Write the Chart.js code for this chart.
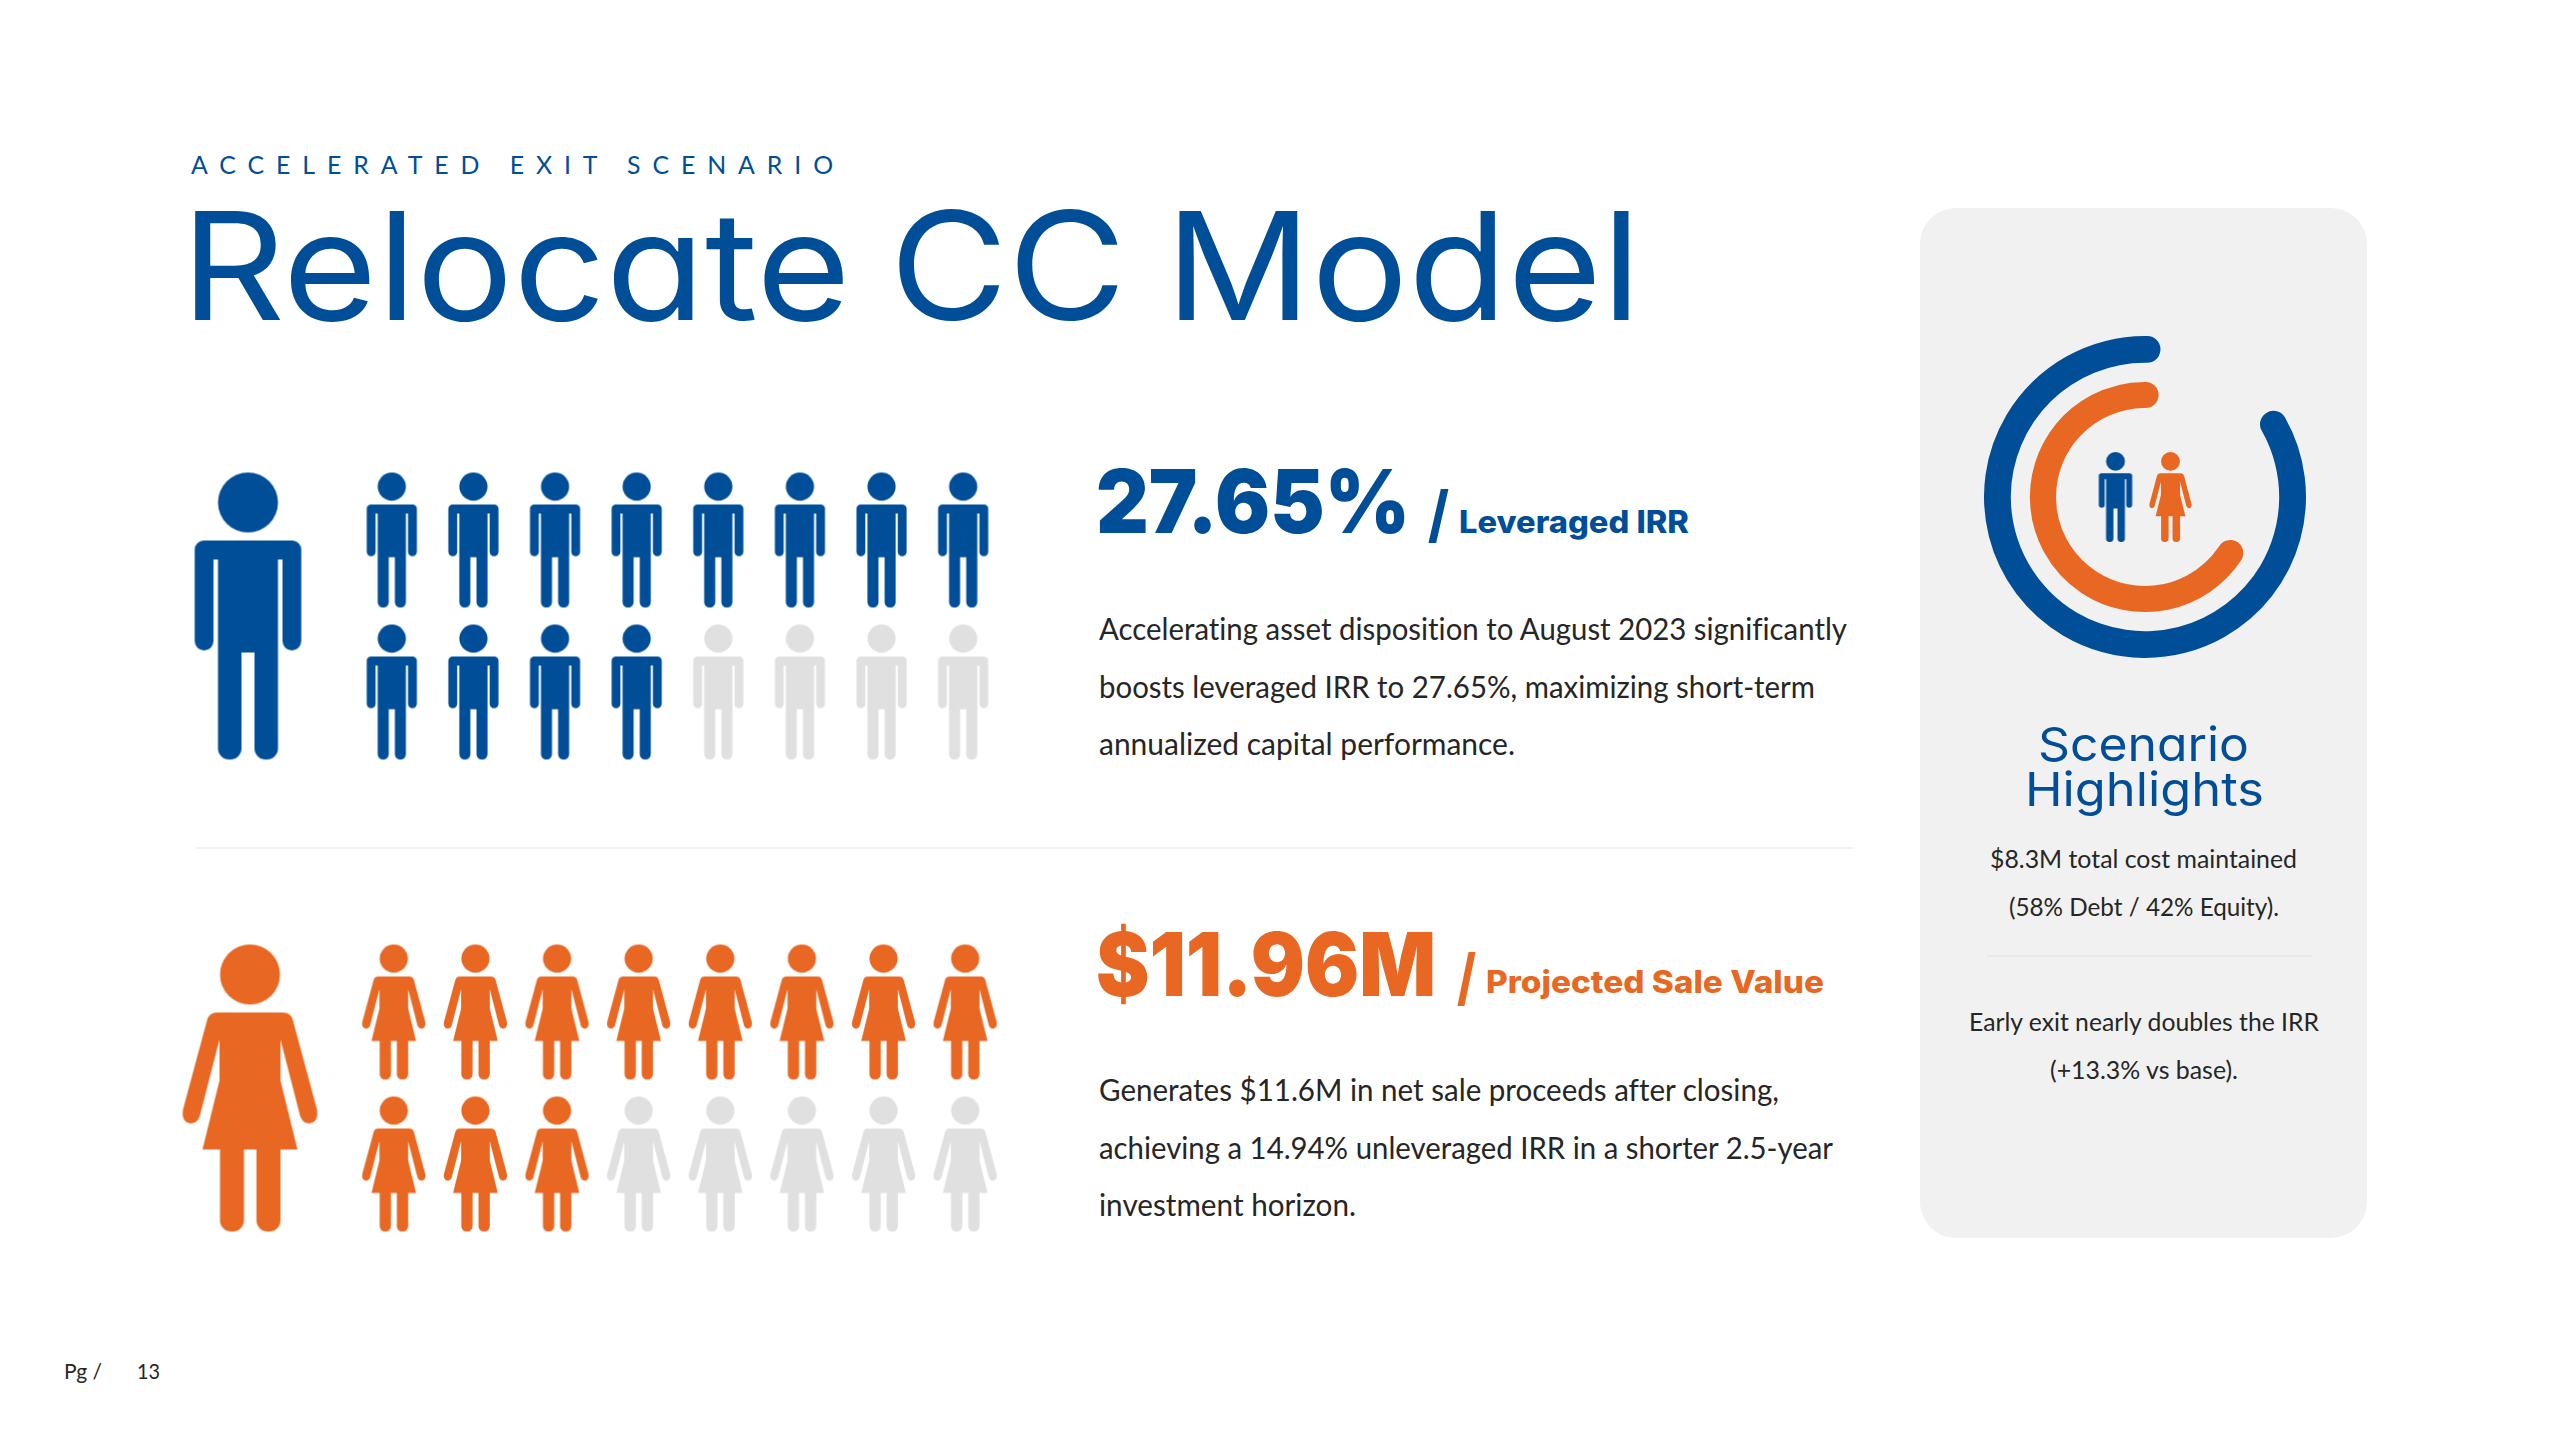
<!DOCTYPE html>
<html>
<head>
<meta charset="utf-8">
<title>Relocate CC Model</title>
<script src="https://cdn.jsdelivr.net/npm/chart.js@4/dist/chart.umd.min.js"></script>
<style>
html, body { margin: 0; padding: 0; background: #fff; }
#slide { position: relative; width: 2560px; height: 1440px; overflow: hidden; background: #fff; }
#slide canvas { position: absolute; }
.t { position: absolute; white-space: pre; transform-origin: 0 0; line-height: normal; }
.blue { color: #004e98; }
.orange { color: #e86722; }
.eyebrow { font: 400 25px Lato; letter-spacing: 12px; }
.title { font: 400 150px Inter; font-feature-settings: 'cv11'; word-spacing: -6px; }
.big { font: 900 88px Inter; }
.slash { font: 800 62px Inter; }
.sub { font: 800 31px Inter; }
.body { font: 400 30px Lato; color: #262626; font-variant-ligatures: none; }
.head { font: 400 47px Inter; font-feature-settings: 'cv11'; }
.small { font: 400 25px Lato; color: #262626; font-variant-ligatures: none; }
.foot { font: 400 21px Lato; color: #262626; }
.rule { position: absolute; height: 2px; background: #f2f2f2; }
#panel { position: absolute; left: 1920px; top: 208px; width: 447px; height: 1030px; background: #f1f1f1; border-radius: 36px; }
</style>
</head>
<body>
<div id="slide">
  <div id="panel"></div>
  <div class="rule" style="left:196px;top:847px;width:1657px"></div>
  <div class="rule" style="left:1987px;top:955px;width:325px;background:#e8e8e8"></div>

  <span class="t eyebrow blue" data-x="191" data-base="174" data-w="654">ACCELERATED EXIT SCENARIO</span>
  <span class="t title blue" data-x="181" data-base="320" data-w="1460">Relocate CC Model</span>

  <span class="t big blue" data-x="1096" data-base="533" data-w="314">27.65%</span>
  <span class="t slash blue" data-x="1428" data-base="536" data-w="21">/</span>
  <span class="t sub blue" data-x="1459" data-base="533" data-w="230">Leveraged IRR</span>
  <span class="t body" data-x="1099" data-base="640" data-w="748">Accelerating asset disposition to August 2023 significantly</span>
  <span class="t body" data-x="1099" data-base="698" data-w="716">boosts leveraged IRR to 27.65%, maximizing short-term</span>
  <span class="t body" data-x="1099" data-base="755" data-w="416">annualized capital performance.</span>

  <span class="t big orange" data-x="1096" data-base="996" data-w="340">$11.96M</span>
  <span class="t slash orange" data-x="1457" data-base="999" data-w="19">/</span>
  <span class="t sub orange" data-x="1486" data-base="993" data-w="338">Projected Sale Value</span>
  <span class="t body" data-x="1099" data-base="1101" data-w="680">Generates $11.6M in net sale proceeds after closing,</span>
  <span class="t body" data-x="1099" data-base="1159" data-w="734">achieving a 14.94% unleveraged IRR in a shorter 2.5-year</span>
  <span class="t body" data-x="1099" data-base="1216" data-w="257">investment horizon.</span>

  <span class="t head blue" data-x="2038" data-base="761" data-w="211">Scenario</span>
  <span class="t head blue" data-x="2025" data-base="806" data-w="239">Highlights</span>
  <span class="t small" data-x="1990" data-base="868" data-w="307">$8.3M total cost maintained</span>
  <span class="t small" data-x="2009" data-base="916" data-w="270">(58% Debt / 42% Equity).</span>
  <span class="t small" data-x="1969" data-base="1031" data-w="350">Early exit nearly doubles the IRR</span>
  <span class="t small" data-x="2050" data-base="1079" data-w="188">(+13.3% vs base).</span>

  <span class="t foot" data-x="64" data-base="1379" data-w="38">Pg /</span>
  <span class="t foot" data-x="137" data-base="1379" data-w="23">13</span>

  <canvas id="bigMan" width="140" height="300" style="left:178px;top:466px"></canvas>
  <canvas id="irrGrid" width="653" height="304" style="left:351px;top:464px"></canvas>
  <canvas id="bigWoman" width="140" height="300" style="left:180px;top:938px"></canvas>
  <canvas id="saleGrid" width="653" height="304" style="left:353px;top:936px"></canvas>
  <canvas id="ring" width="322" height="322" style="left:1984px;top:336px"></canvas>
  <canvas id="ringIcons" width="110" height="100" style="left:2088px;top:447px"></canvas>
</div>

<script>
'use strict';
// icon grids
let gridColumns = [1, 2, 3, 4, 5, 6, 7, 8];
let gridRows = [1, 2];
// how many icons are coloured in each row
let irrFilled = [8, 4];
let saleFilled = [8, 3];

// ring values, percent of the full circle
let outerRingValues = [86.3, 13.7];
let innerRingValues = [69.9, 30.1];

let BLUE = '#004e98';
let ORANGE = '#e86722';
let GREY = '#e0e0e0';

// put text on its baseline and squeeze it to the width in the picture
function placeText(el) {
    let probe = document.createElement('i');
    probe.style.cssText = 'display:inline-block;width:0;height:0';
    el.appendChild(probe);
    el.style.left = el.dataset.x + 'px';
    el.style.top = '0px';
    let ascent = probe.getBoundingClientRect().bottom - el.getBoundingClientRect().top;
    el.removeChild(probe);
    el.style.top = (Number(el.dataset.base) - ascent) + 'px';
    let sx = Number(el.dataset.w) / el.getBoundingClientRect().width;
    el.style.transform = 'scaleX(' + sx + ')';
}
document.querySelectorAll('.t').forEach(placeText);

// silhouettes are written for a 287 tall figure, scaled down from there
function figureCanvas(wide, height, color, draw) {
    let s = height / 287;
    let c = document.createElement('canvas');
    c.width = Math.ceil(wide * s) + 2;
    c.height = Math.ceil(height) + 2;
    let ctx = c.getContext('2d');
    ctx.translate(c.width / 2, 1);
    ctx.scale(s, s);
    ctx.fillStyle = color;
    ctx.beginPath();
    ctx.arc(0, 30, 30, 0, Math.PI * 2);
    ctx.fill();
    draw(ctx);
    return c;
}

function manIcon(height, color) {
    return figureCanvas(107, height, color, function (ctx) {
        ctx.beginPath();
        ctx.roundRect(-30, 68, 60, 112, 0);
        ctx.roundRect(-53.3, 68, 106.6, 19, [9, 9, 0, 0]);
        ctx.roundRect(-53.3, 70, 18.8, 108, [7, 0, 9.4, 9.4]);
        ctx.roundRect(34.5, 70, 18.8, 108, [0, 7, 9.4, 9.4]);
        ctx.roundRect(-30, 170, 23.5, 117, [0, 0, 11, 11]);
        ctx.roundRect(6.5, 170, 23.5, 117, [0, 0, 11, 11]);
        ctx.fill();
    });
}

function womanIcon(height, color) {
    return figureCanvas(137, height, color, function (ctx) {
        ctx.beginPath();
        // right side going down, then mirrored
        ctx.moveTo(-33, 68);
        ctx.lineTo(33, 68);
        ctx.quadraticCurveTo(41, 68, 43, 76);
        ctx.lineTo(67, 165);
        ctx.quadraticCurveTo(69, 178, 59, 179);
        ctx.quadraticCurveTo(51, 179, 49, 167);
        ctx.lineTo(30.5, 95);
        ctx.lineTo(30.5, 136);
        ctx.lineTo(47.5, 205);
        ctx.lineTo(-47.5, 205);
        ctx.lineTo(-30.5, 136);
        ctx.lineTo(-30.5, 95);
        ctx.lineTo(-49, 167);
        ctx.quadraticCurveTo(-51, 179, -59, 179);
        ctx.quadraticCurveTo(-69, 178, -67, 165);
        ctx.lineTo(-43, 76);
        ctx.quadraticCurveTo(-41, 68, -33, 68);
        ctx.closePath();
        ctx.fill();
        ctx.beginPath();
        ctx.roundRect(-30, 200, 24, 87, [0, 0, 11, 11]);
        ctx.roundRect(6.5, 200, 24, 87, [0, 0, 11, 11]);
        ctx.fill();
    });
}

function hiddenScale(min, max, reverse) {
    return { type: 'linear', display: false, min: min, max: max, reverse: reverse };
}

function iconChart(id, columns, rows, datasets) {
    datasets.forEach(function (d) {
        d.clip = false;
        d.pointRadius = 10;
    });
    return new Chart(document.getElementById(id), {
        type: 'scatter',
        data: { datasets: datasets },
        options: {
            responsive: false,
            animation: false,
            devicePixelRatio: 1,
            // the point radius must not shrink the plot area
            layout: { padding: 0, autoPadding: false },
            plugins: { legend: { display: false }, tooltip: { enabled: false } },
            scales: {
                x: hiddenScale(columns[0] - 0.5, columns[columns.length - 1] + 0.5, false),
                y: hiddenScale(rows[0] - 0.5, rows[rows.length - 1] + 0.5, true)
            }
        }
    });
}

// split the grid into coloured and grey points
function gridDatasets(filled, onIcon, offIcon) {
    let on = [];
    let off = [];
    gridRows.forEach(function (row, r) {
        gridColumns.forEach(function (col, c) {
            (c < filled[r] ? on : off).push({ x: col, y: row });
        });
    });
    return [
        { data: on, pointStyle: onIcon },
        { data: off, pointStyle: offIcon }
    ];
}

iconChart('irrGrid', gridColumns, gridRows, gridDatasets(irrFilled, manIcon(135, BLUE), manIcon(135, GREY)));
iconChart('saleGrid', gridColumns, gridRows, gridDatasets(saleFilled, womanIcon(135, ORANGE), womanIcon(135, GREY)));

iconChart('bigMan', [1], [1], [{ data: [{ x: 1, y: 1 }], pointStyle: manIcon(287, BLUE) }]);
iconChart('bigWoman', [1], [1], [{ data: [{ x: 1, y: 1 }], pointStyle: womanIcon(287, ORANGE) }]);

iconChart('ringIcons', [1, 2], [1], [{
    data: [{ x: 1, y: 1 }, { x: 2, y: 1 }],
    pointStyle: [manIcon(90, BLUE), womanIcon(90, ORANGE)]
}]);

new Chart(document.getElementById('ring'), {
    type: 'doughnut',
    data: {
        datasets: [
            { data: outerRingValues, backgroundColor: [BLUE, 'transparent'], rotation: 55.3, weight: 26.7 },
            // empty space between the two rings
            { data: [1], backgroundColor: ['transparent'], weight: 19 },
            { data: innerRingValues, backgroundColor: [ORANGE, 'transparent'], rotation: 116, weight: 26 }
        ]
    },
    options: {
        responsive: false,
        animation: false,
        devicePixelRatio: 1,
        cutout: 89,
        borderWidth: 0,
        layout: { padding: 0 },
        elements: { arc: { borderWidth: 0, borderRadius: 13.2 } },
        plugins: { legend: { display: false }, tooltip: { enabled: false } }
    }
});
</script>
</body>
</html>
